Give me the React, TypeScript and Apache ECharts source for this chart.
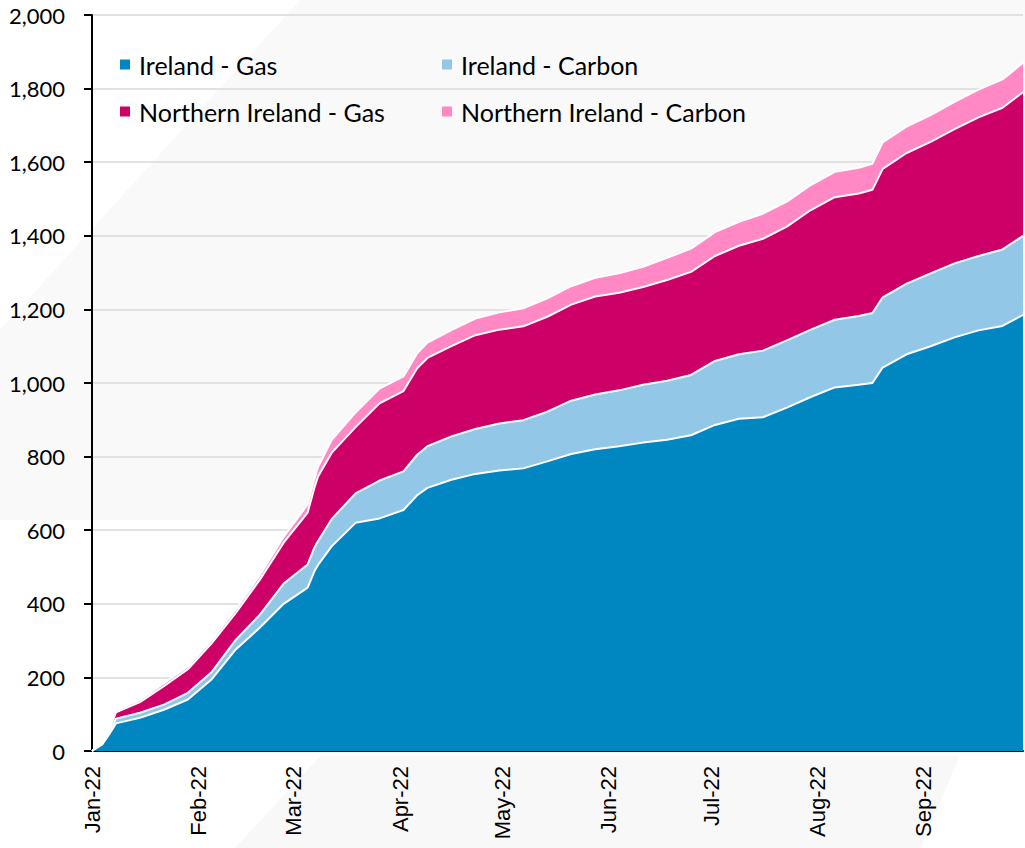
import React, { useEffect, useRef } from "react";
import * as echarts from "echarts";

const dates = [
  "2022-01-01", "2022-01-04", "2022-01-06", "2022-01-08", "2022-01-15", "2022-01-22", "2022-01-29",
  "2022-02-05", "2022-02-12", "2022-02-19", "2022-02-26", "2022-03-05", "2022-03-07", "2022-03-08",
  "2022-03-12", "2022-03-19", "2022-03-26", "2022-04-02", "2022-04-06", "2022-04-09", "2022-04-16",
  "2022-04-23", "2022-04-30", "2022-05-07", "2022-05-14", "2022-05-21", "2022-05-28", "2022-06-04",
  "2022-06-11", "2022-06-18", "2022-06-25", "2022-07-02", "2022-07-09", "2022-07-16", "2022-07-23",
  "2022-07-30", "2022-08-06", "2022-08-13", "2022-08-17", "2022-08-20", "2022-08-27", "2022-09-03",
  "2022-09-10", "2022-09-17", "2022-09-24", "2022-09-30",
];

const irelandGas = [
  0, 18, 45, 75, 90, 112, 140,
  195, 276, 335, 400, 444, 489, 505,
  556, 620, 632, 655, 695, 715, 737,
  753, 762, 768, 787, 807, 820, 828,
  838, 846, 858, 886, 903, 907, 933,
  962, 988, 995, 1000, 1042, 1078, 1100,
  1124, 1143, 1155, 1185,
];

const irelandCarbon = [
  0, 0, 5, 13, 14, 14, 18,
  20, 26, 35, 55, 63, 64, 65,
  74, 80, 103, 105, 110, 113, 118,
  122, 128, 131, 135, 145, 149, 152,
  157, 160, 164, 174, 175, 181, 183,
  183, 184, 187, 190, 191, 192, 198,
  201, 202, 208, 215,
];

const niGas = [
  0, 0, 5, 17, 29, 50, 64,
  78, 73, 95, 111, 141, 163, 175,
  180, 180, 210, 218, 235, 240, 245,
  255, 255, 255, 258, 261, 266, 265,
  266, 274, 280, 285, 295, 304, 309,
  325, 333, 333, 335, 349, 355, 357,
  365, 377, 385, 390,
];

const niCarbon = [
  0, 2, 4, 5, 6, 8, 8,
  9, 10, 12, 16, 22, 24, 26,
  35, 40, 40, 40, 41, 42, 44,
  45, 47, 49, 50, 50, 51, 53,
  55, 60, 63, 65, 65, 68, 68,
  68, 69, 70, 71, 72, 72, 73,
  74, 75, 77, 80,
];

const monthLabels = ["Jan-22", "Feb-22", "Mar-22", "Apr-22", "May-22", "Jun-22", "Jul-22", "Aug-22", "Sep-22"];

const seriesNames = ["Ireland - Gas", "Ireland - Carbon", "Northern Ireland - Gas", "Northern Ireland - Carbon"];
const seriesColors = ["#0086C0", "#92C7E7", "#CC0066", "#FF88C5"];

function parseLocal(s: string): number {
  const [y, m, d] = s.split("-").map(Number);
  return new Date(y, m - 1, d).getTime();
}

const DAY = 86400000;

export default function App() {
  const ref = useRef<HTMLDivElement>(null);

  useEffect(() => {
    if (!ref.current) return;
    const chart = echarts.init(ref.current, null, { renderer: "svg" });
    const values = [irelandGas, irelandCarbon, niGas, niCarbon];

    const legendText = { fontFamily: "Lato", fontSize: 25, color: "#000", lineHeight: 24, padding: [0, 0, 0, 4] };

    const option: any = {
      animation: false,
      backgroundColor: "#ffffff",
      textStyle: { fontFamily: "Lato" },
      graphic: [
        {
          type: "polygon",
          z: -10,
          silent: true,
          shape: { points: [[0, 330], [300, 0], [1025, 0], [1025, 300], [330, 520], [0, 520]] },
          style: { fill: "#f9f9f9" },
        },
        {
          type: "polygon",
          z: -10,
          silent: true,
          shape: { points: [[320, 756], [960, 756], [920, 848], [235, 848]] },
          style: { fill: "#f8f8f8" },
        },
      ],
      grid: { left: 92, right: 2, top: 15, bottom: 97, containLabel: false },
      legend: [
        {
          data: [seriesNames[0], seriesNames[2]],
          orient: "vertical",
          left: 115,
          top: 47,
          itemWidth: 10,
          itemHeight: 10,
          itemGap: 22,
          icon: "rect",
          selectedMode: false,
          textStyle: legendText,
        },
        {
          data: [seriesNames[1], seriesNames[3]],
          orient: "vertical",
          left: 437,
          top: 47,
          itemWidth: 10,
          itemHeight: 10,
          itemGap: 22,
          icon: "rect",
          selectedMode: false,
          textStyle: legendText,
        },
      ],
      xAxis: {
        type: "time",
        min: parseLocal("2022-01-01"),
        max: parseLocal("2022-09-30"),
        minInterval: 28 * DAY,
        maxInterval: 31 * DAY,
        splitNumber: 9,
        axisLine: { show: true, onZero: false, lineStyle: { color: "#000", width: 2 } },
        axisTick: { show: false },
        splitLine: { show: false },
        axisLabel: {
          rotate: 90,
          margin: 15,
          fontFamily: "Liberation Sans",
          fontSize: 22,
          color: "#000",
          showMinLabel: true,
          hideOverlap: false,
          formatter: (v: number) => {
            const d = new Date(v);
            if (d.getDate() !== 1 || d.getMonth() > 8) return "";
            return monthLabels[d.getMonth()];
          },
        },
      },
      yAxis: {
        type: "value",
        min: 0,
        max: 2000,
        interval: 200,
        axisLine: { show: true, lineStyle: { color: "#000", width: 2 } },
        axisTick: { show: true, length: 8, lineStyle: { color: "#000", width: 2 } },
        splitLine: { show: true, lineStyle: { color: "#d9d9d9", width: 1.5 } },
        axisLabel: {
          margin: 27,
          fontFamily: "Lato",
          fontSize: 22,
          color: "#000",
          formatter: (v: number) => v.toLocaleString("en-US"),
        },
      },
      series: seriesNames.map((name, si) => ({
        name,
        type: "line",
        stack: "total",
        symbol: "none",
        showSymbol: false,
        smooth: false,
        color: seriesColors[si],
        lineStyle: { color: "#ffffff", width: 2 },
        areaStyle: { color: seriesColors[si], opacity: 1 },
        itemStyle: { color: seriesColors[si] },
        z: 10 - si,
        data: dates.map((d, i) => [parseLocal(d), values[si][i]]),
      })),
    };
    chart.setOption(option);
    return () => chart.dispose();
  }, []);

  return (
    <div
      ref={ref}
      style={{ position: "absolute", left: 0, top: 0, width: 1025, height: 848 }}
    />
  );
}
